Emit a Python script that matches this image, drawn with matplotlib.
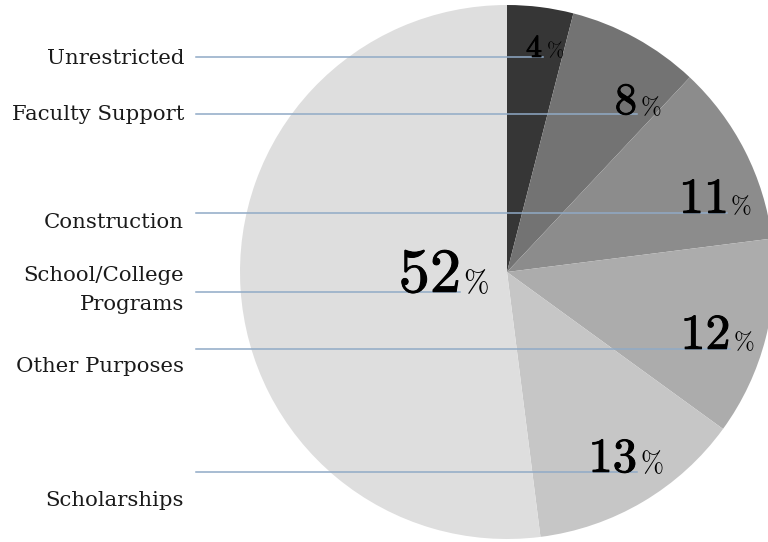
import matplotlib.pyplot as plt
import matplotlib.patheffects as pe

plt.rcParams['mathtext.fontset'] = 'cm'

# slices, clockwise from 12 o'clock
categories = ['Unrestricted', 'Faculty Support', 'Construction',
              'Other Purposes', 'Scholarships', 'School/College\nPrograms']
values = [4, 8, 11, 12, 13, 52]
colors = ['#363636', '#737373', '#8c8c8c', '#acacac', '#c6c6c6', '#dedede']

# layout (pixel coords, y from top)
cx, cy, rad = 507, 272, 267
num_anchor = [(543, 57), (637, 114), (727, 213), (730, 349), (637, 472), (460, 292)]
num_size = [23, 32, 36, 36, 35, 45]
pct_size = [15, 18, 18, 18, 20, 22]
label_y = [58, 115, 222, 367, 500, 290]
line_x0 = 196
H = 542

fig = plt.figure(figsize=(7.68, 5.42), dpi=100)
ax = fig.add_axes([0, 0, 1, 1])
ax.pie(values, colors=colors, startangle=90, counterclock=False,
       center=(cx, H - cy), radius=rad, wedgeprops=dict(linewidth=0))
ax.set_xlim(0, 768)
ax.set_ylim(0, H)
ax.set_aspect('equal')
ax.axis('off')

bold = [pe.withStroke(linewidth=0.7, foreground='black')]
for cat, v, (ax_x, ax_y), fs, ps, ly in zip(categories, values, num_anchor,
                                            num_size, pct_size, label_y):
    ax.plot([line_x0, ax_x], [H - ax_y, H - ax_y], color='#90aac6', lw=1.1, zorder=3)
    ax.text(184, H - ly, cat, ha='right', va='center', fontsize=15.3,
            family='DejaVu Serif', color='#1a1a1a', linespacing=1.62)
    ax.text(ax_x, H - ax_y, r'$\mathbf{%d}$' % v, ha='right', va='baseline',
            fontsize=fs, color='black', zorder=4, path_effects=bold)
    ax.text(ax_x + 3, H - ax_y, r'$\%$', ha='left', va='baseline',
            fontsize=ps, color='black', zorder=4)

fig.savefig('out.png', dpi=100)
